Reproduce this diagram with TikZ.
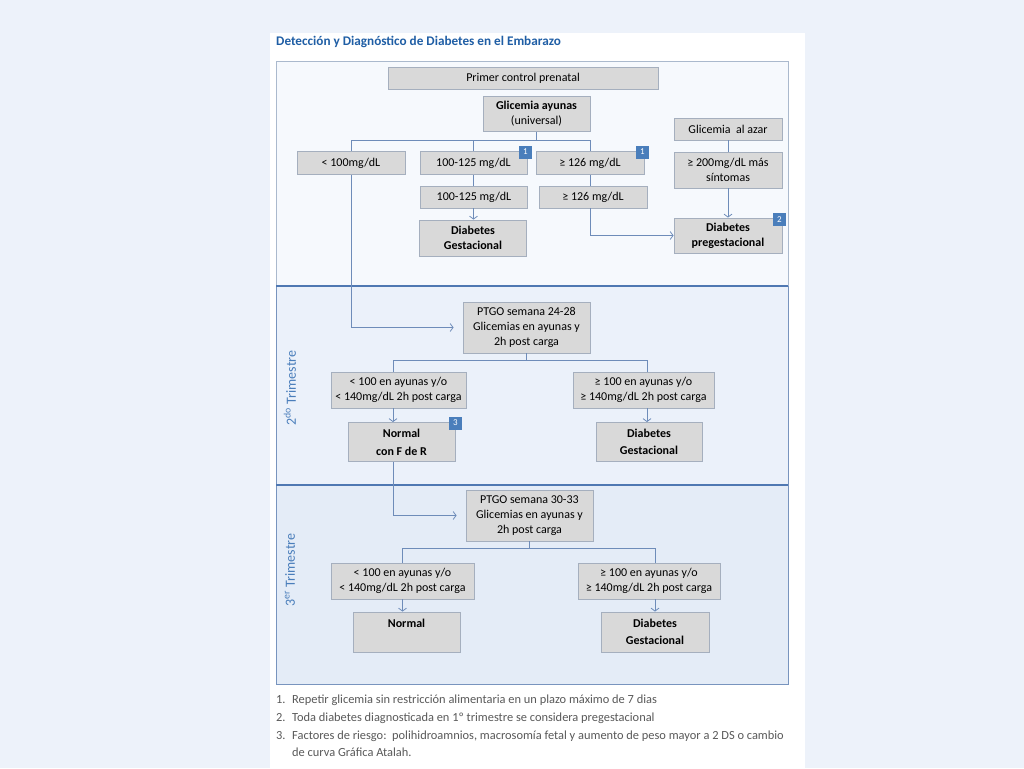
\documentclass[tikz,border=0pt]{standalone}
\usepackage{fontspec}
\setmainfont{Carlito}
\usetikzlibrary{arrows.meta}

\definecolor{fondo}{RGB}{237,242,250}
\definecolor{sec1}{RGB}{246,249,253}
\definecolor{sec2}{RGB}{235,241,250}
\definecolor{sec3}{RGB}{228,236,247}
\definecolor{bordesec}{RGB}{120,148,190}
\definecolor{borde1}{RGB}{170,185,205}
\definecolor{azulsep}{RGB}{79,120,178}
\definecolor{grisbox}{RGB}{217,217,217}
\definecolor{bordecaja}{RGB}{165,175,190}
\definecolor{azulmarca}{RGB}{74,126,187}
\definecolor{azullinea}{RGB}{110,140,185}
\definecolor{azultitulo}{RGB}{31,94,165}
\definecolor{gristexto}{RGB}{89,89,89}

\begin{document}
\begin{tikzpicture}[x=1pt,y=-1pt,>={Straight Barb[length=3pt,width=8pt]},
    caja/.style={draw=bordecaja,fill=grisbox,line width=0.8pt,align=center,inner sep=0pt,
        font=\fontsize{12}{15}\selectfont},
    negrita/.style={font=\bfseries\fontsize{12}{15}\selectfont},
    marca/.style={fill=azulmarca,text=white,minimum size=13pt,inner sep=0pt,
        font=\fontsize{9}{9}\selectfont},
    linea/.style={draw=azullinea,line width=0.8pt},
    flecha/.style={linea,->},
    trimestre/.style={rotate=90,text=azulmarca,font=\fontsize{14}{14}\selectfont},
    nota/.style={anchor=west,inner sep=0pt,text=gristexto,font=\fontsize{12.4}{12.4}\selectfont}]

    % fondo y marco
    \fill[fondo] (0,0) rectangle (1024,768);
    \useasboundingbox (0,0) rectangle (1024,768);
    \fill[white] (270,33) rectangle (805,768);
    \draw[fill=sec1,draw=borde1,line width=1pt] (276,61) rectangle (788,286);
    \fill[sec2] (276,286) rectangle (788,485);
    \fill[sec3] (276,485) rectangle (788,684);
    \draw[bordesec,line width=1pt] (276,286) -- (276,684) -- (788,684) -- (788,286);
    \draw[azulsep,line width=1.5pt] (276,286) -- (788,286) (276,485) -- (788,485);

    \node[anchor=west,inner sep=0pt,text=azultitulo,font=\bfseries\fontsize{13.2}{13.2}\selectfont](titulo)at(276, 42){Detección y Diagnóstico de Diabetes en el Embarazo};
    \node[trimestre](tri2)at(290, 388){2\textsuperscript{do} Trimestre};
    \node[trimestre](tri3)at(290, 570){3\textsuperscript{er} Trimestre};

    % primer trimestre
    \node[caja,minimum width=270,minimum height=22](primer)at(523, 78){Primer control prenatal};
    \node[caja,minimum width=107,minimum height=35](ayunas)at(536.5, 114){\textbf{Glicemia ayunas}\\(universal)};
    \node[caja,minimum width=108,minimum height=22](azar)at(728, 129){Glicemia\ \ al azar};
    \node[caja,minimum width=108,minimum height=23](menor)at(351, 163){< 100mg/dL};
    \node[caja,minimum width=107,minimum height=23](rango)at(473.5, 163){100-125 mg/dL};
    \node[caja,minimum width=108,minimum height=23](mayor)at(590, 163){≥ 126 mg/dL};
    \node[caja,minimum width=108,minimum height=36](sintomas)at(728, 170){≥ 200mg/dL más\\síntomas};
    \node[caja,minimum width=107,minimum height=22](rango2)at(474, 197){100-125 mg/dL};
    \node[caja,minimum width=108,minimum height=22](mayor2)at(593, 197){≥ 126 mg/dL};
    \node[caja,negrita,minimum width=107,minimum height=36](gest1)at(473, 238){Diabetes\\Gestacional};
    \node[caja,negrita,minimum width=108,minimum height=35](pregest)at(728, 235.5){Diabetes\\pregestacional};
    \node[marca](m1)at([xshift=-2pt,yshift=-1pt]rango.north east){1};
    \node[marca](m2)at([xshift=-2pt,yshift=-1pt]mayor.north east){1};
    \node[marca](m3)at([xshift=-3pt,yshift=-2pt]pregest.north east){2};

    % segundo trimestre
    \node[caja,minimum width=127,minimum height=51](ptgo1)at(526.5, 327.5){PTGO semana 24-28\\Glicemias en ayunas y\\2h post carga};
    \node[caja,minimum width=135,minimum height=36](bajo2)at(398.5, 390){< 100 en ayunas y/o\\< 140mg/dL 2h post carga};
    \node[caja,minimum width=141,minimum height=36](alto2)at(643.5, 390){≥ 100 en ayunas y/o\\≥ 140mg/dL 2h post carga};
    \node[caja,negrita,minimum width=107,minimum height=39](fder)at(401.5, 442){Normal\\[3pt]con F de R};
    \node[caja,negrita,minimum width=106,minimum height=39](gest2)at(649, 442){Diabetes\\[2pt]Gestacional};
    \node[marca](m4)at([xshift=0pt,yshift=-1pt]fder.north east){3};

    % tercer trimestre
    \node[caja,minimum width=127,minimum height=51](ptgo2)at(529.5, 515.5){PTGO semana 30-33\\Glicemias en ayunas y\\2h post carga};
    \node[caja,minimum width=143,minimum height=36](bajo3)at(402.5, 581){< 100 en ayunas y/o\\< 140mg/dL 2h post carga};
    \node[caja,minimum width=142,minimum height=36](alto3)at(649, 581){≥ 100 en ayunas y/o\\≥ 140mg/dL 2h post carga};
    \node[caja,negrita,minimum width=107,minimum height=40](normal)at(406.5, 632){Normal\\[2pt]~};
    \node[caja,negrita,minimum width=108,minimum height=40](gest3)at(655, 632){Diabetes\\[2pt]Gestacional};

    % conectores
    \draw[linea] (ayunas.south) -- ++(0,8.5) coordinate (r1);
    \draw[linea] (menor.north) |- (r1) -| (mayor.north);
    \draw[linea] (rango.north) -- (rango.north |- r1);
    \draw[linea] (rango.south) -- (rango.south |- rango2.north);
    \draw[flecha] (rango.south |- rango2.south) -- (rango.south |- gest1.north);
    \draw[linea] (mayor.south) -- (mayor.south |- mayor2.north);
    \draw[flecha] (mayor.south |- mayor2.south) |- (pregest.west);
    \draw[linea] (azar) -- (sintomas);
    \draw[flecha] (sintomas) -- (pregest);
    \draw[flecha,shorten >=9pt] (menor.south) |- (ptgo1.west);

    \coordinate (b2) at ([xshift=-5.5pt]bajo2.north);
    \coordinate (a2) at ([xshift=3.5pt]alto2.north);
    \draw[linea] (ptgo1.south) -- ++(0,7) coordinate (r2);
    \draw[linea] (b2) |- (r2) -| (a2);
    \draw[flecha] (b2 |- bajo2.south) -- (b2 |- fder.north);
    \draw[flecha] (a2 |- alto2.south) -- (a2 |- gest2.north);
    \draw[flecha,shorten >=9pt] (b2 |- fder.south) |- (ptgo2.west);

    \coordinate (b3) at (bajo3.north);
    \coordinate (a3) at (gest3.north |- alto3.north);
    \draw[linea] (ptgo2.south) -- ++(0,6.5) coordinate (r3);
    \draw[linea] (b3) |- (r3) -| (a3);
    \draw[flecha] (b3 |- bajo3.south) -- (b3 |- normal.north);
    \draw[flecha] (a3 |- alto3.south) -- (gest3.north);

    % notas
    \node[nota](n1)at(276, 700){1.};
    \node[nota](t1)at(292, 700){Repetir glicemia sin restricción alimentaria en un plazo máximo de 7 dias};
    \node[nota](n2)at(276, 718){2.};
    \node[nota](t2)at(292, 718){Toda diabetes diagnosticada en 1º trimestre se considera pregestacional};
    \node[nota](n3)at(276, 736){3.};
    \node[nota](t3)at(292, 736){Factores de riesgo:\ \ polihidroamnios, macrosomía fetal y aumento de peso mayor a 2 DS o cambio};
    \node[nota](t4)at(292, 752){de curva Gráfica Atalah.};
\end{tikzpicture}
\end{document}
